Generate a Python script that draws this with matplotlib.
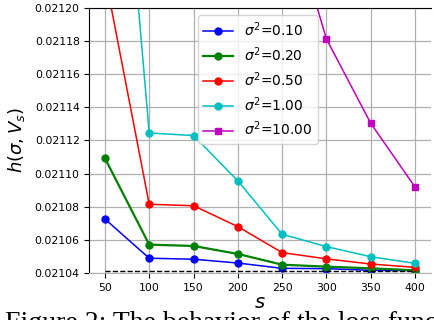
import matplotlib
matplotlib.use("Agg")
import matplotlib.pyplot as plt
from matplotlib.ticker import FormatStrFormatter

s = [50, 100, 150, 200, 250, 300, 350, 400]
h_010 = [0.0210726, 0.0210489, 0.0210483, 0.0210460, 0.0210428, 0.0210426, 0.0210416, 0.0210414]
h_020 = [0.0211093, 0.0210571, 0.0210563, 0.0210515, 0.0210450, 0.0210438, 0.0210428, 0.0210416]
h_050 = [0.0212200, 0.0210815, 0.0210806, 0.0210680, 0.0210523, 0.0210485, 0.0210454, 0.0210434]
h_100 = [0.0214370, 0.0211245, 0.0211230, 0.0210956, 0.0210634, 0.0210559, 0.0210498, 0.0210458]
h_1000 = [0.0225000, 0.0220000, 0.0216000, 0.0214000, 0.0212720, 0.0211813, 0.0211304, 0.0210919]
lower_bound = 0.0210414

fig = plt.figure(figsize=(4.34, 3.2), dpi=100)
ax = fig.add_axes([0.206, 0.147, 0.786, 0.828])

ax.plot(s, h_010, color="b", marker="o", ms=5, lw=1.1, label=r"$\sigma^2$=0.10")
ax.plot(s, h_020, color="g", marker="o", ms=5, lw=1.6, label=r"$\sigma^2$=0.20")
ax.plot(s, h_050, color="r", marker="o", ms=5, lw=1.1, label=r"$\sigma^2$=0.50")
ax.plot(s, h_100, color="c", marker="o", ms=5, lw=1.1, label=r"$\sigma^2$=1.00")
ax.plot(s, h_1000, color="m", marker="s", ms=4.5, lw=1.1, label=r"$\sigma^2$=10.00")
ax.plot(s, [lower_bound] * len(s), "k--", lw=1)

ax.set_ylim(0.02104, 0.02120)
ax.set_yticks([0.02104 + 0.00002 * i for i in range(9)])
ax.yaxis.set_major_formatter(FormatStrFormatter("%.5f"))
ax.set_xticks(s)
ax.tick_params(labelsize=7.8)
ax.grid(True, color="#b0b0b0", lw=0.9)
ax.set_axisbelow(True)
ax.spines["right"].set_visible(False)
ax.spines["bottom"].set_color("#b0b0b0")

ax.set_xlabel(r"$s$", fontsize=14, labelpad=0)
ax.set_ylabel(r"$h(\sigma, V_s)$", fontsize=13)
ax.yaxis.set_label_coords(-0.183, 0.5)

ax.legend(loc="upper left", bbox_to_anchor=(0.318, 0.974), borderaxespad=0,
          fontsize=10, labelspacing=0.45, handlelength=2.1)

# caption of the source figure, cut off by the page edge
fig.text(0.012, -0.032, "Figure 2: The behavior of the loss function",
         family="Liberation Serif", fontsize=20, va="baseline", ha="left")

fig.savefig("out.png", dpi=100)
